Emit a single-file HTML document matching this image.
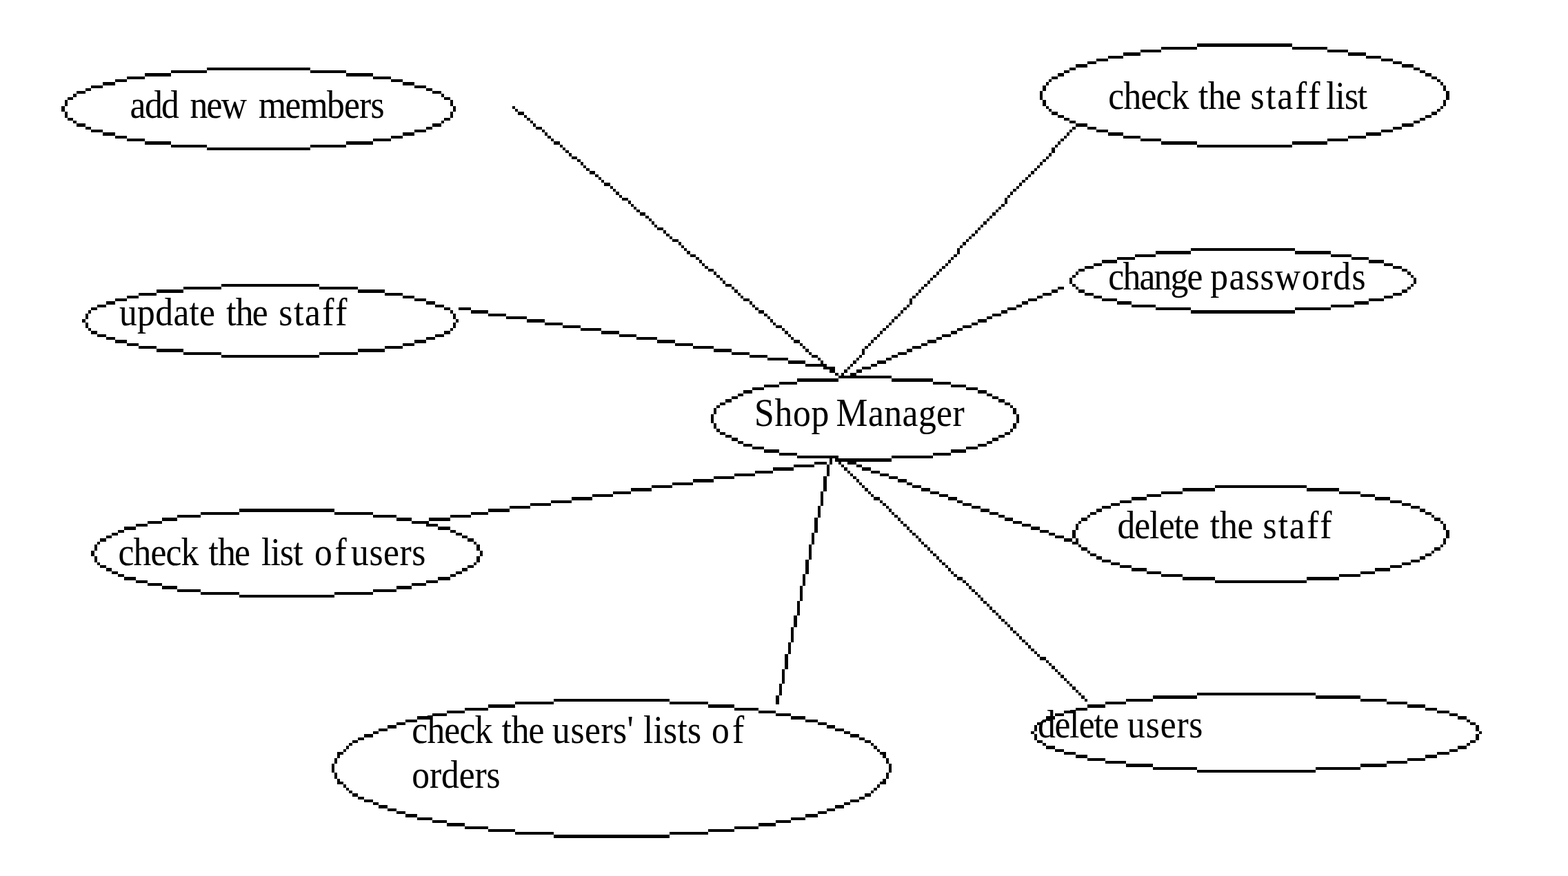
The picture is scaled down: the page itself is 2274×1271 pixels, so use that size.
<!DOCTYPE html>
<html lang="en">
<head>
<meta charset="utf-8">
<title>Shop Manager use case diagram</title>
<style>
html,body{margin:0;padding:0;background:#fff;}
body{width:2274px;height:1271px;overflow:hidden;}
svg{display:block;}
text{font-family:"Liberation Serif","DejaVu Serif",serif;font-size:51.6px;fill:#000;}
</style>
</head>
<body>
<svg width="2274" height="1271" viewBox="0 0 2274 1271">
<rect width="2274" height="1271" fill="#fff"/>
<path shape-rendering="crispEdges" fill="#000" d="M1736 63h138v5h-138zM1684 68h52v4h-52zM1874 68h51v4h-51zM1654 72h30v4h-30zM1925 72h30v4h-30zM1629 76h25v5h-25zM1955 76h26v5h-26zM1607 81h22v4h-22zM1981 81h22v4h-22zM1590 85h17v4h-17zM2003 85h17v4h-17zM1577 89h13v4h-13zM2020 89h13v4h-13zM1560 93h17v5h-17zM2033 93h17v5h-17zM300 98h150v4h-150zM1551 98h9v4h-9zM2050 98h9v4h-9zM248 102h52v4h-52zM450 102h52v4h-52zM1543 102h8v4h-8zM2059 102h8v4h-8zM210 106h38v5h-38zM502 106h39v5h-39zM1534 106h9v5h-9zM2067 106h9v5h-9zM184 111h26v4h-26zM541 111h26v4h-26zM1525 111h9v4h-9zM2076 111h8v4h-8zM167 115h17v4h-17zM567 115h17v4h-17zM1521 115h4v4h-4zM2084 115h5v4h-5zM149 119h18v5h-18zM584 119h17v5h-17zM1517 119h4v5h-4zM2089 119h4v5h-4zM132 124h17v4h-17zM601 124h17v4h-17zM1512 124h5v4h-5zM2093 124h4v4h-4zM124 128h8v4h-8zM618 128h9v4h-9zM1512 128h5v4h-5zM2093 128h4v4h-4zM111 132h13v4h-13zM627 132h13v4h-13zM1508 132h4v4h-4zM2097 132h5v4h-5zM106 136h5v5h-5zM640 136h4v5h-4zM1508 136h4v5h-4zM2097 136h5v5h-5zM98 141h8v4h-8zM644 141h9v4h-9zM1508 141h4v4h-4zM2097 141h5v4h-5zM94 145h4v4h-4zM653 145h4v4h-4zM1512 145h5v4h-5zM2093 145h4v4h-4zM94 149h4v5h-4zM653 149h4v5h-4zM1512 149h5v5h-5zM2093 149h4v5h-4zM89 154h5v4h-5zM657 154h4v4h-4zM743 154h4v4h-4zM1517 154h4v4h-4zM2089 154h4v4h-4zM89 158h5v4h-5zM657 158h4v4h-4zM747 158h4v4h-4zM1521 158h4v4h-4zM2084 158h5v4h-5zM94 162h4v5h-4zM653 162h4v5h-4zM751 162h9v5h-9zM1525 162h9v5h-9zM2076 162h8v5h-8zM94 167h4v4h-4zM653 167h4v4h-4zM760 167h4v4h-4zM1534 167h9v4h-9zM2067 167h9v4h-9zM98 171h8v4h-8zM644 171h9v4h-9zM764 171h5v4h-5zM1543 171h8v4h-8zM2059 171h8v4h-8zM106 175h5v4h-5zM640 175h4v4h-4zM769 175h4v4h-4zM1551 175h9v4h-9zM2050 175h9v4h-9zM111 179h13v5h-13zM627 179h13v5h-13zM773 179h4v5h-4zM1560 179h17v5h-17zM2033 179h17v5h-17zM124 184h8v4h-8zM618 184h9v4h-9zM777 184h9v4h-9zM1555 184h5v4h-5zM1577 184h13v4h-13zM2020 184h13v4h-13zM132 188h17v4h-17zM601 188h17v4h-17zM786 188h4v4h-4zM1551 188h4v4h-4zM1590 188h17v4h-17zM2003 188h17v4h-17zM149 192h18v5h-18zM584 192h17v5h-17zM790 192h4v5h-4zM1547 192h4v5h-4zM1607 192h22v5h-22zM1981 192h22v5h-22zM167 197h17v4h-17zM567 197h17v4h-17zM794 197h5v4h-5zM1543 197h4v4h-4zM1629 197h25v4h-25zM1955 197h26v4h-26zM184 201h26v4h-26zM541 201h26v4h-26zM799 201h4v4h-4zM1538 201h5v4h-5zM1654 201h30v4h-30zM1925 201h30v4h-30zM210 205h38v5h-38zM502 205h39v5h-39zM803 205h9v5h-9zM1534 205h4v5h-4zM1684 205h52v5h-52zM1874 205h51v5h-51zM248 210h52v4h-52zM450 210h52v4h-52zM812 210h4v4h-4zM1530 210h4v4h-4zM1736 210h138v4h-138zM300 214h150v4h-150zM816 214h4v4h-4zM1525 214h5v4h-5zM820 218h5v4h-5zM1525 218h5v4h-5zM825 222h4v5h-4zM1521 222h4v5h-4zM829 227h8v4h-8zM1517 227h4v4h-4zM837 231h5v4h-5zM1512 231h5v4h-5zM842 235h4v5h-4zM1508 235h4v5h-4zM846 240h4v4h-4zM1504 240h4v4h-4zM850 244h5v4h-5zM1500 244h4v4h-4zM855 248h8v5h-8zM1495 248h5v5h-5zM863 253h5v4h-5zM1491 253h4v4h-4zM868 257h4v4h-4zM1487 257h4v4h-4zM872 261h4v4h-4zM1482 261h5v4h-5zM876 265h9v5h-9zM1478 265h4v5h-4zM885 270h4v4h-4zM1474 270h4v4h-4zM889 274h4v4h-4zM1469 274h5v4h-5zM893 278h5v5h-5zM1465 278h4v5h-4zM898 283h4v4h-4zM1461 283h4v4h-4zM902 287h9v4h-9zM1457 287h4v4h-4zM911 291h4v5h-4zM1457 291h4v5h-4zM915 296h4v4h-4zM1452 296h5v4h-5zM919 300h4v4h-4zM1448 300h4v4h-4zM923 304h5v4h-5zM1444 304h4v4h-4zM928 308h8v5h-8zM1439 308h5v5h-5zM936 313h5v4h-5zM1435 313h4v4h-4zM941 317h4v4h-4zM1431 317h4v4h-4zM945 321h4v5h-4zM1426 321h5v5h-5zM949 326h4v4h-4zM1422 326h4v4h-4zM953 330h9v4h-9zM1418 330h4v4h-4zM962 334h4v5h-4zM1414 334h4v5h-4zM966 339h5v4h-5zM1409 339h5v4h-5zM971 343h4v4h-4zM1405 343h4v4h-4zM975 347h9v4h-9zM1401 347h4v4h-4zM984 351h4v5h-4zM1396 351h5v5h-5zM988 356h4v4h-4zM1392 356h4v4h-4zM992 360h4v4h-4zM1388 360h4v4h-4zM1727 360h151v4h-151zM996 364h5v5h-5zM1388 364h4v5h-4zM1676 364h51v5h-51zM1878 364h52v5h-52zM1001 369h8v4h-8zM1383 369h5v4h-5zM1646 369h30v4h-30zM1930 369h30v4h-30zM1009 373h5v4h-5zM1379 373h4v4h-4zM1620 373h26v4h-26zM1960 373h25v4h-25zM1014 377h4v5h-4zM1375 377h4v5h-4zM1598 377h22v5h-22zM1985 377h22v5h-22zM1018 382h4v4h-4zM1371 382h4v4h-4zM1586 382h12v4h-12zM2007 382h13v4h-13zM1022 386h5v4h-5zM1366 386h5v4h-5zM1573 386h13v4h-13zM2020 386h13v4h-13zM1027 390h8v4h-8zM1362 390h4v4h-4zM1564 390h9v4h-9zM2033 390h8v4h-8zM1035 394h4v5h-4zM1358 394h4v5h-4zM1560 394h4v5h-4zM2041 394h5v5h-5zM1039 399h5v4h-5zM1353 399h5v4h-5zM1555 399h5v4h-5zM2046 399h4v4h-4zM1044 403h4v4h-4zM1349 403h4v4h-4zM1551 403h4v4h-4zM2050 403h4v4h-4zM1048 407h4v5h-4zM1345 407h4v5h-4zM1551 407h4v5h-4zM2050 407h4v5h-4zM321 412h142v4h-142zM1052 412h9v4h-9zM1340 412h5v4h-5zM1555 412h5v4h-5zM2046 412h4v4h-4zM266 416h55v4h-55zM463 416h56v4h-56zM1061 416h4v4h-4zM1336 416h4v4h-4zM1534 416h9v4h-9zM1560 416h4v4h-4zM2041 416h5v4h-5zM227 420h39v5h-39zM519 420h39v5h-39zM1065 420h5v5h-5zM1332 420h4v5h-4zM1525 420h9v5h-9zM1564 420h9v5h-9zM2033 420h8v5h-8zM201 425h26v4h-26zM558 425h26v4h-26zM1070 425h4v4h-4zM1328 425h4v4h-4zM1512 425h13v4h-13zM1573 425h13v4h-13zM2020 425h13v4h-13zM184 429h17v4h-17zM584 429h17v4h-17zM1074 429h4v4h-4zM1323 429h5v4h-5zM1504 429h8v4h-8zM1586 429h12v4h-12zM2007 429h13v4h-13zM167 433h17v4h-17zM601 433h17v4h-17zM1078 433h9v4h-9zM1319 433h4v4h-4zM1491 433h13v4h-13zM1598 433h22v4h-22zM1985 433h22v4h-22zM154 437h13v5h-13zM618 437h13v5h-13zM1087 437h4v5h-4zM1319 437h4v5h-4zM1482 437h9v5h-9zM1620 437h21v5h-21zM1964 437h21v5h-21zM141 442h13v4h-13zM631 442h13v4h-13zM1091 442h4v4h-4zM1315 442h4v4h-4zM1474 442h8v4h-8zM1641 442h35v4h-35zM1930 442h34v4h-34zM132 446h9v4h-9zM644 446h9v4h-9zM665 446h18v4h-18zM1095 446h5v4h-5zM1310 446h5v4h-5zM1461 446h13v4h-13zM1676 446h51v4h-51zM1878 446h52v4h-52zM128 450h4v5h-4zM653 450h4v5h-4zM683 450h25v5h-25zM1100 450h8v5h-8zM1306 450h4v5h-4zM1452 450h9v5h-9zM1727 450h151v5h-151zM124 455h4v4h-4zM657 455h4v4h-4zM708 455h26v4h-26zM1108 455h5v4h-5zM1302 455h4v4h-4zM1439 455h13v4h-13zM124 459h4v4h-4zM657 459h4v4h-4zM734 459h30v4h-30zM1113 459h4v4h-4zM1297 459h5v4h-5zM1431 459h8v4h-8zM119 463h5v5h-5zM661 463h4v5h-4zM764 463h26v5h-26zM1117 463h4v5h-4zM1293 463h4v5h-4zM1418 463h13v5h-13zM124 468h4v4h-4zM657 468h4v4h-4zM790 468h26v4h-26zM1121 468h4v4h-4zM1289 468h4v4h-4zM1409 468h9v4h-9zM124 472h4v4h-4zM657 472h4v4h-4zM816 472h26v4h-26zM1125 472h9v4h-9zM1285 472h4v4h-4zM1396 472h13v4h-13zM128 476h4v4h-4zM653 476h4v4h-4zM842 476h30v4h-30zM1134 476h4v4h-4zM1280 476h5v4h-5zM1388 476h8v4h-8zM132 480h9v5h-9zM644 480h9v5h-9zM872 480h26v5h-26zM1138 480h5v5h-5zM1276 480h4v5h-4zM1379 480h9v5h-9zM141 485h13v4h-13zM631 485h13v4h-13zM898 485h25v4h-25zM1143 485h4v4h-4zM1272 485h4v4h-4zM1366 485h13v4h-13zM154 489h13v4h-13zM618 489h13v4h-13zM923 489h30v4h-30zM1147 489h4v4h-4zM1267 489h5v4h-5zM1358 489h8v4h-8zM167 493h17v5h-17zM601 493h17v5h-17zM953 493h26v5h-26zM1151 493h9v5h-9zM1263 493h4v5h-4zM1345 493h13v5h-13zM184 498h17v4h-17zM584 498h17v4h-17zM979 498h26v4h-26zM1160 498h4v4h-4zM1259 498h4v4h-4zM1336 498h9v4h-9zM201 502h26v4h-26zM558 502h26v4h-26zM1005 502h30v4h-30zM1164 502h4v4h-4zM1254 502h5v4h-5zM1323 502h13v4h-13zM227 506h39v5h-39zM519 506h39v5h-39zM1035 506h26v5h-26zM1168 506h5v5h-5zM1250 506h4v5h-4zM1315 506h8v5h-8zM266 511h55v4h-55zM463 511h56v4h-56zM1061 511h26v4h-26zM1173 511h4v4h-4zM1250 511h4v4h-4zM1302 511h13v4h-13zM321 515h142v4h-142zM1087 515h26v4h-26zM1177 515h9v4h-9zM1246 515h4v4h-4zM1293 515h9v4h-9zM1113 519h30v4h-30zM1186 519h4v4h-4zM1242 519h4v4h-4zM1285 519h8v4h-8zM1143 523h25v5h-25zM1190 523h4v5h-4zM1237 523h5v5h-5zM1272 523h13v5h-13zM1168 528h31v4h-31zM1233 528h4v4h-4zM1263 528h9v4h-9zM1194 532h17v4h-17zM1229 532h4v4h-4zM1250 532h13v4h-13zM1203 536h8v5h-8zM1224 536h5v5h-5zM1242 536h8v5h-8zM1211 541h5v4h-5zM1220 541h4v4h-4zM1233 541h9v4h-9zM1216 545h77v4h-77zM1156 549h60v5h-60zM1293 549h60v5h-60zM1130 554h26v4h-26zM1353 554h26v4h-26zM1108 558h22v4h-22zM1379 558h22v4h-22zM1091 562h17v4h-17zM1401 562h17v4h-17zM1078 566h13v5h-13zM1418 566h13v5h-13zM1070 571h8v4h-8zM1431 571h8v4h-8zM1061 575h9v4h-9zM1439 575h9v4h-9zM1052 579h9v5h-9zM1448 579h9v5h-9zM1044 584h8v4h-8zM1457 584h8v4h-8zM1039 588h5v4h-5zM1465 588h4v4h-4zM1035 592h4v5h-4zM1469 592h5v5h-5zM1035 597h4v4h-4zM1469 597h5v4h-5zM1031 601h4v4h-4zM1474 601h4v4h-4zM1031 605h4v4h-4zM1474 605h4v4h-4zM1031 609h4v5h-4zM1474 609h4v5h-4zM1035 614h4v4h-4zM1469 614h5v4h-5zM1035 618h4v4h-4zM1469 618h5v4h-5zM1039 622h5v5h-5zM1465 622h4v5h-4zM1044 627h8v4h-8zM1457 627h8v4h-8zM1052 631h9v4h-9zM1448 631h9v4h-9zM1061 635h9v5h-9zM1439 635h9v5h-9zM1070 640h8v4h-8zM1431 640h8v4h-8zM1078 644h13v4h-13zM1418 644h13v4h-13zM1091 648h17v4h-17zM1401 648h17v4h-17zM1108 652h22v5h-22zM1379 652h22v5h-22zM1130 657h26v4h-26zM1353 657h26v4h-26zM1156 661h60v4h-60zM1293 661h60v4h-60zM1203 665h4v5h-4zM1211 665h82v5h-82zM1181 670h18v4h-18zM1203 670h4v4h-4zM1216 670h4v4h-4zM1229 670h13v4h-13zM1151 674h30v4h-30zM1199 674h4v4h-4zM1220 674h4v4h-4zM1242 674h8v4h-8zM1121 678h30v5h-30zM1199 678h4v5h-4zM1224 678h5v5h-5zM1250 678h13v5h-13zM1095 683h26v4h-26zM1199 683h4v4h-4zM1229 683h4v4h-4zM1263 683h13v4h-13zM1065 687h30v4h-30zM1199 687h4v4h-4zM1233 687h4v4h-4zM1276 687h13v4h-13zM1035 691h30v4h-30zM1194 691h5v4h-5zM1237 691h5v4h-5zM1289 691h13v4h-13zM1005 695h30v5h-30zM1194 695h5v5h-5zM1242 695h4v5h-4zM1302 695h13v5h-13zM975 700h30v4h-30zM1194 700h5v4h-5zM1246 700h4v4h-4zM1315 700h8v4h-8zM945 704h30v4h-30zM1194 704h5v4h-5zM1250 704h4v4h-4zM1323 704h13v4h-13zM1762 704h133v4h-133zM915 708h30v5h-30zM1194 708h5v5h-5zM1254 708h5v5h-5zM1336 708h13v5h-13zM1715 708h47v5h-47zM1895 708h47v5h-47zM889 713h26v4h-26zM1190 713h4v4h-4zM1259 713h4v4h-4zM1349 713h13v4h-13zM1684 713h31v4h-31zM1942 713h31v4h-31zM859 717h30v4h-30zM1190 717h4v4h-4zM1263 717h4v4h-4zM1362 717h13v4h-13zM1663 717h21v4h-21zM1973 717h21v4h-21zM829 721h30v5h-30zM1190 721h4v5h-4zM1267 721h9v5h-9zM1375 721h13v5h-13zM1641 721h22v5h-22zM1994 721h22v5h-22zM799 726h30v4h-30zM1190 726h4v4h-4zM1276 726h4v4h-4zM1388 726h8v4h-8zM1624 726h17v4h-17zM2016 726h17v4h-17zM769 730h30v4h-30zM1190 730h4v4h-4zM1280 730h5v4h-5zM1396 730h13v4h-13zM1611 730h13v4h-13zM2033 730h13v4h-13zM739 734h30v4h-30zM1186 734h4v4h-4zM1285 734h4v4h-4zM1409 734h13v4h-13zM1598 734h13v4h-13zM2046 734h13v4h-13zM347 738h138v5h-138zM708 738h31v5h-31zM1186 738h4v5h-4zM1289 738h4v5h-4zM1422 738h13v5h-13zM1590 738h8v5h-8zM2059 738h8v5h-8zM291 743h56v4h-56zM485 743h56v4h-56zM683 743h25v4h-25zM1186 743h4v4h-4zM1293 743h4v4h-4zM1435 743h13v4h-13zM1581 743h9v4h-9zM2067 743h9v4h-9zM257 747h34v4h-34zM541 747h34v4h-34zM653 747h30v4h-30zM1186 747h4v4h-4zM1297 747h5v4h-5zM1448 747h9v4h-9zM1577 747h4v4h-4zM2076 747h4v4h-4zM235 751h22v5h-22zM575 751h22v5h-22zM622 751h31v5h-31zM1181 751h5v5h-5zM1302 751h4v5h-4zM1457 751h12v5h-12zM1568 751h9v5h-9zM2080 751h9v5h-9zM214 756h21v4h-21zM597 756h25v4h-25zM1181 756h5v4h-5zM1306 756h4v4h-4zM1469 756h13v4h-13zM1564 756h4v4h-4zM2089 756h4v4h-4zM197 760h17v4h-17zM618 760h17v4h-17zM1181 760h5v4h-5zM1310 760h5v4h-5zM1482 760h13v4h-13zM1560 760h4v4h-4zM2093 760h4v4h-4zM180 764h17v5h-17zM635 764h18v5h-18zM1181 764h5v5h-5zM1315 764h4v5h-4zM1495 764h13v5h-13zM1560 764h4v5h-4zM2093 764h4v5h-4zM171 769h9v4h-9zM653 769h8v4h-8zM1181 769h5v4h-5zM1319 769h4v4h-4zM1508 769h13v4h-13zM1555 769h5v4h-5zM2097 769h5v4h-5zM162 773h9v4h-9zM661 773h9v4h-9zM1177 773h4v4h-4zM1323 773h5v4h-5zM1521 773h9v4h-9zM1555 773h5v4h-5zM2097 773h5v4h-5zM154 777h8v4h-8zM670 777h8v4h-8zM1177 777h4v4h-4zM1328 777h4v4h-4zM1530 777h13v4h-13zM1555 777h5v4h-5zM2097 777h5v4h-5zM145 781h9v5h-9zM678 781h9v5h-9zM1177 781h4v5h-4zM1332 781h4v5h-4zM1543 781h12v5h-12zM1560 781h4v5h-4zM2093 781h4v5h-4zM141 786h4v4h-4zM687 786h4v4h-4zM1177 786h4v4h-4zM1336 786h4v4h-4zM1555 786h9v4h-9zM2093 786h4v4h-4zM137 790h4v4h-4zM691 790h5v4h-5zM1173 790h4v4h-4zM1340 790h5v4h-5zM1564 790h4v4h-4zM2089 790h4v4h-4zM137 794h4v5h-4zM691 794h5v5h-5zM1173 794h4v5h-4zM1345 794h4v5h-4zM1568 794h9v5h-9zM2080 794h9v5h-9zM132 799h5v4h-5zM696 799h4v4h-4zM1173 799h4v4h-4zM1349 799h4v4h-4zM1577 799h4v4h-4zM2076 799h4v4h-4zM132 803h5v4h-5zM696 803h4v4h-4zM1173 803h4v4h-4zM1353 803h5v4h-5zM1581 803h9v4h-9zM2067 803h9v4h-9zM137 807h4v5h-4zM691 807h5v5h-5zM1173 807h4v5h-4zM1358 807h4v5h-4zM1590 807h8v5h-8zM2059 807h8v5h-8zM137 812h4v4h-4zM691 812h5v4h-5zM1168 812h5v4h-5zM1362 812h4v4h-4zM1598 812h13v4h-13zM2046 812h13v4h-13zM141 816h4v4h-4zM687 816h4v4h-4zM1168 816h5v4h-5zM1366 816h5v4h-5zM1611 816h13v4h-13zM2033 816h13v4h-13zM145 820h9v4h-9zM678 820h9v4h-9zM1168 820h5v4h-5zM1371 820h4v4h-4zM1624 820h17v4h-17zM2016 820h17v4h-17zM154 824h8v5h-8zM670 824h8v5h-8zM1168 824h5v5h-5zM1375 824h4v5h-4zM1641 824h22v5h-22zM1994 824h22v5h-22zM162 829h9v4h-9zM661 829h9v4h-9zM1168 829h5v4h-5zM1379 829h4v4h-4zM1663 829h21v4h-21zM1973 829h21v4h-21zM171 833h9v4h-9zM653 833h8v4h-8zM1164 833h4v4h-4zM1383 833h5v4h-5zM1684 833h31v4h-31zM1942 833h31v4h-31zM180 837h17v5h-17zM635 837h18v5h-18zM1164 837h4v5h-4zM1388 837h8v5h-8zM1715 837h47v5h-47zM1895 837h47v5h-47zM197 842h17v4h-17zM618 842h17v4h-17zM1164 842h4v4h-4zM1396 842h5v4h-5zM1762 842h133v4h-133zM214 846h21v4h-21zM597 846h21v4h-21zM1164 846h4v4h-4zM1401 846h4v4h-4zM235 850h22v5h-22zM575 850h22v5h-22zM1160 850h4v5h-4zM1405 850h4v5h-4zM257 855h34v4h-34zM541 855h34v4h-34zM1160 855h4v4h-4zM1409 855h5v4h-5zM291 859h56v4h-56zM485 859h56v4h-56zM1160 859h4v4h-4zM1414 859h4v4h-4zM347 863h138v4h-138zM1160 863h4v4h-4zM1418 863h4v4h-4zM1160 867h4v5h-4zM1422 867h4v5h-4zM1156 872h4v4h-4zM1426 872h5v4h-5zM1156 876h4v4h-4zM1431 876h4v4h-4zM1156 880h4v5h-4zM1435 880h4v5h-4zM1156 885h4v4h-4zM1439 885h5v4h-5zM1156 889h4v4h-4zM1444 889h4v4h-4zM1151 893h5v5h-5zM1448 893h4v5h-4zM1151 898h5v4h-5zM1452 898h5v4h-5zM1151 902h5v4h-5zM1457 902h4v4h-4zM1151 906h5v4h-5zM1461 906h4v4h-4zM1147 910h4v5h-4zM1465 910h4v5h-4zM1147 915h4v4h-4zM1469 915h5v4h-5zM1147 919h4v4h-4zM1474 919h4v4h-4zM1147 923h4v5h-4zM1478 923h4v5h-4zM1147 928h4v4h-4zM1482 928h5v4h-5zM1143 932h4v4h-4zM1487 932h4v4h-4zM1143 936h4v5h-4zM1491 936h4v5h-4zM1143 941h4v4h-4zM1495 941h5v4h-5zM1143 945h4v4h-4zM1500 945h4v4h-4zM1138 949h5v4h-5zM1504 949h4v4h-4zM1138 953h5v5h-5zM1508 953h9v5h-9zM1138 958h5v4h-5zM1517 958h4v4h-4zM1138 962h5v4h-5zM1521 962h4v4h-4zM1138 966h5v5h-5zM1525 966h5v5h-5zM1134 971h4v4h-4zM1530 971h4v4h-4zM1134 975h4v4h-4zM1534 975h4v4h-4zM1134 979h4v5h-4zM1538 979h5v5h-5zM1134 984h4v4h-4zM1543 984h4v4h-4zM1134 988h4v4h-4zM1547 988h4v4h-4zM1130 992h4v4h-4zM1551 992h4v4h-4zM1130 996h4v5h-4zM1555 996h5v5h-5zM1130 1001h4v4h-4zM1560 1001h4v4h-4zM1130 1005h4v4h-4zM1564 1005h4v4h-4zM1736 1005h172v4h-172zM1125 1009h5v5h-5zM1568 1009h5v5h-5zM1672 1009h64v5h-64zM1908 1009h65v5h-65zM803 1014h168v4h-168zM1125 1014h5v4h-5zM1573 1014h4v4h-4zM1633 1014h39v4h-39zM1973 1014h38v4h-38zM747 1018h56v4h-56zM971 1018h56v4h-56zM1125 1018h5v4h-5zM1603 1018h30v4h-30zM2011 1018h30v4h-30zM708 1022h39v5h-39zM1027 1022h38v5h-38zM1577 1022h26v5h-26zM2041 1022h26v5h-26zM674 1027h34v4h-34zM1065 1027h35v4h-35zM1560 1027h17v4h-17zM2067 1027h17v4h-17zM648 1031h26v4h-26zM1100 1031h25v4h-25zM1543 1031h17v4h-17zM2084 1031h18v4h-18zM627 1035h21v4h-21zM1125 1035h22v4h-22zM1530 1035h13v4h-13zM2102 1035h12v4h-12zM605 1039h22v5h-22zM1147 1039h21v5h-21zM1517 1039h13v5h-13zM2114 1039h13v5h-13zM588 1044h17v4h-17zM1168 1044h18v4h-18zM1512 1044h5v4h-5zM2127 1044h5v4h-5zM575 1048h13v4h-13zM1186 1048h13v4h-13zM1504 1048h8v4h-8zM2132 1048h8v4h-8zM562 1052h13v5h-13zM1199 1052h12v5h-12zM1500 1052h4v5h-4zM2140 1052h5v5h-5zM549 1057h13v4h-13zM1211 1057h13v4h-13zM1500 1057h4v4h-4zM2140 1057h5v4h-5zM541 1061h8v4h-8zM1224 1061h9v4h-9zM1495 1061h5v4h-5zM2145 1061h4v4h-4zM528 1065h13v5h-13zM1233 1065h13v5h-13zM1500 1065h4v5h-4zM2140 1065h5v5h-5zM519 1070h9v4h-9zM1246 1070h8v4h-8zM1500 1070h4v4h-4zM2140 1070h5v4h-5zM511 1074h8v4h-8zM1254 1074h9v4h-9zM1504 1074h8v4h-8zM2132 1074h8v4h-8zM506 1078h5v4h-5zM1263 1078h4v4h-4zM1512 1078h5v4h-5zM2127 1078h5v4h-5zM502 1082h4v5h-4zM1267 1082h5v5h-5zM1517 1082h13v5h-13zM2114 1082h13v5h-13zM498 1087h4v4h-4zM1272 1087h4v4h-4zM1530 1087h13v4h-13zM2102 1087h12v4h-12zM489 1091h9v4h-9zM1276 1091h9v4h-9zM1543 1091h17v4h-17zM2084 1091h18v4h-18zM489 1095h4v5h-4zM1280 1095h5v5h-5zM1560 1095h17v5h-17zM2067 1095h17v5h-17zM485 1100h4v4h-4zM1285 1100h4v4h-4zM1577 1100h26v4h-26zM2041 1100h26v4h-26zM485 1104h4v4h-4zM1285 1104h4v4h-4zM1603 1104h30v4h-30zM2011 1104h30v4h-30zM481 1108h4v5h-4zM1289 1108h4v5h-4zM1633 1108h39v5h-39zM1973 1108h38v5h-38zM481 1113h4v4h-4zM1289 1113h4v4h-4zM1672 1113h64v4h-64zM1908 1113h65v4h-65zM481 1117h4v4h-4zM1289 1117h4v4h-4zM1736 1117h172v4h-172zM485 1121h4v4h-4zM1285 1121h4v4h-4zM485 1125h4v5h-4zM1285 1125h4v5h-4zM489 1130h4v4h-4zM1280 1130h5v4h-5zM489 1134h9v4h-9zM1276 1134h9v4h-9zM498 1138h4v5h-4zM1272 1138h4v5h-4zM502 1143h4v4h-4zM1267 1143h5v4h-5zM506 1147h5v4h-5zM1263 1147h4v4h-4zM511 1151h8v5h-8zM1254 1151h9v5h-9zM519 1156h9v4h-9zM1246 1156h8v4h-8zM528 1160h13v4h-13zM1233 1160h13v4h-13zM541 1164h8v4h-8zM1224 1164h9v4h-9zM549 1168h13v5h-13zM1211 1168h13v5h-13zM562 1173h13v4h-13zM1199 1173h12v4h-12zM575 1177h13v4h-13zM1186 1177h13v4h-13zM588 1181h17v5h-17zM1168 1181h18v5h-18zM605 1186h22v4h-22zM1147 1186h21v4h-21zM627 1190h21v4h-21zM1125 1190h22v4h-22zM648 1194h26v5h-26zM1100 1194h25v5h-25zM674 1199h34v4h-34zM1065 1199h35v4h-35zM708 1203h39v4h-39zM1027 1203h38v4h-38zM747 1207h56v4h-56zM971 1207h56v4h-56zM803 1211h168v5h-168z"/>

<g transform="scale(1 1.09)" stroke="#000" stroke-width="0.08" stroke-linejoin="round">
<text x="188.6 210.0 234.1 259.9 275.5 299.4 320.7 358.0 375.0 413.5 435.5 474.1 498.9 520.9 537.4" y="156.61">add new members</text>
<text x="173.0 199.1 225.3 251.4 274.6 289.1 312.0 328.2 341.7 365.8 388.7 404.2 426.3 442.1 467.3 486.2" y="432.75">update the staff</text>
<text x="171.6 193.6 218.5 240.5 262.6 288.4 302.4 315.9 340.0 362.9 378.9 392.5 406.1 425.2 439.6 456.1 485.4 502.6 509.1 535.5 556.1 579.6 597.2" y="752.02">check the list of users</text>
<text x="1607.2 1629.4 1654.4 1676.6 1698.8 1724.6 1737.9 1752.0 1777.2 1800.1 1813.5 1836.1 1852.2 1877.9 1897.2 1914.4 1923.1 1936.5 1949.9 1968.7" y="144.68">check the staff list</text>
<text x="1607.2 1628.4 1652.4 1673.6 1697.6 1721.5 1744.4 1755.2 1782.4 1806.5 1827.6 1848.8 1888.0 1915.2 1933.3 1960.4" y="385.05">change passwords</text>
<text x="1094.1 1123.6 1150.1 1176.6 1202.4 1212.4 1259.0 1282.3 1308.6 1331.9 1358.1 1381.4" y="566.70">Shop Manager</text>
<text x="1620.5 1645.2 1667.1 1680.8 1702.7 1716.4 1739.3 1754.8 1769.0 1794.4 1817.3 1831.5 1853.8 1869.8 1895.2 1914.3" y="716.24">delete the staff</text>
<text x="1504.9 1529.4 1551.1 1564.8 1586.5 1600.1 1623.0 1635.0 1661.8 1682.7 1706.5 1724.3" y="981.38">delete users</text>
<text x="597.3 619.4 644.3 666.4 688.6 714.4 727.8 741.7 766.5 789.4 801.1 827.4 848.0 871.4 889.0 909.5 918.8 933.0 947.6 962.1 982.5 997.0 1017.1 1031.9 1062.0" y="988.72">check the users' lists of</text>
<text x="597.3 622.9 640.0 665.7 688.5 705.5" y="1048.35">orders</text>
</g>
</svg>
</body>
</html>
